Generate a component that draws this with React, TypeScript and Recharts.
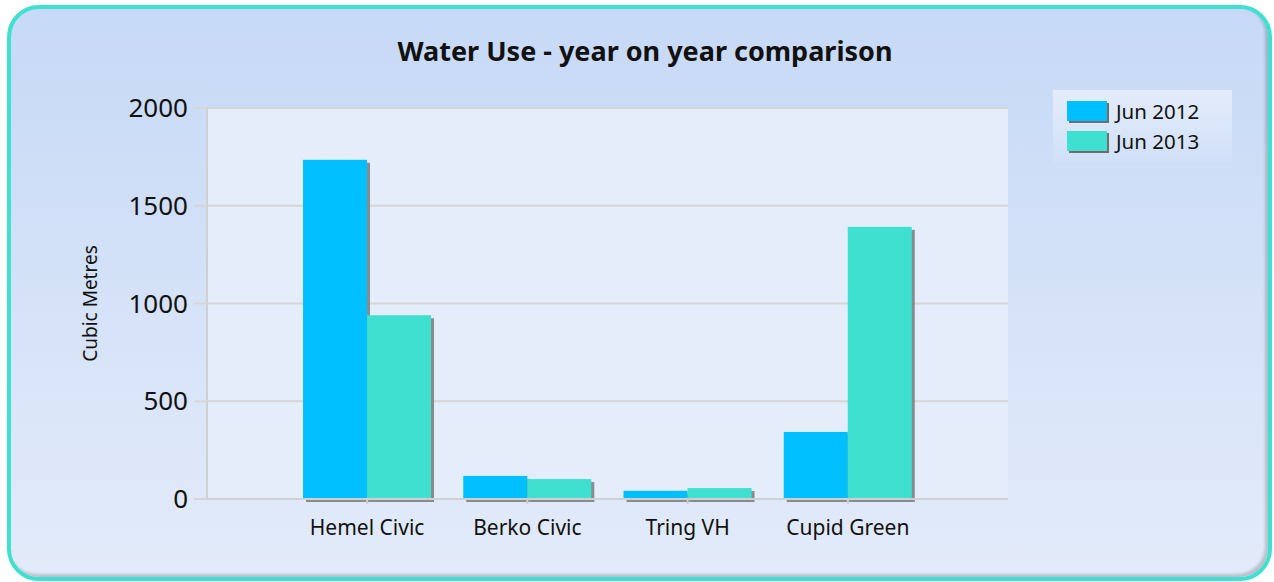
import React from 'react';
import { BarChart, Bar, XAxis, YAxis, CartesianGrid } from 'recharts';

const categories = ['Hemel Civic', 'Berko Civic', 'Tring VH', 'Cupid Green'];
const jun2012 = [1735, 118, 42, 343];
const jun2013 = [940, 102, 56, 1392];
const yTicks = [0, 500, 1000, 1500, 2000];
const seriesNames = ['Jun 2012', 'Jun 2013'];
const seriesColors = ['#00BFFF', '#40E0D0'];

const data = categories.map((c, i) => ({ name: c, a: jun2012[i], b: jun2013[i] }));

const FONT = '"Noto Sans", "DejaVu Sans", sans-serif';

const ShadowBar = (props: any) => {
  const { x, y, width, height, fill } = props;
  if (!height || height <= 0) return null;
  return (
    <g>
      <rect x={x + 3} y={y + 3} width={width} height={height} fill="#7a7a7a" opacity={0.85} />
      <rect x={x} y={y} width={width} height={height} fill={fill} />
    </g>
  );
};

const LegendBox = () => (
  <div
    style={{
      position: 'absolute',
      left: 1053,
      top: 90,
      width: 179,
      height: 73,
      background: 'linear-gradient(#e4ecfb, #d0e0f7)',
      fontFamily: FONT,
    }}
  >
    {seriesNames.map((n, i) => (
      <div key={n} style={{ position: 'absolute', left: 14, top: 10 + i * 30, height: 22, display: 'flex', alignItems: 'center' }}>
        <div style={{ width: 40, height: 20, background: seriesColors[i], boxShadow: '2px 2px 0 #6e6e6e' }} />
        <span style={{ marginLeft: 9, fontSize: 20.5, color: '#111', lineHeight: '22px' }}>{n}</span>
      </div>
    ))}
  </div>
);

const YLabel = (props: any) => {
  const vb = props.viewBox || {};
  const cx = 90;
  const cy = vb.y + vb.height / 2;
  return (
    <text
      x={cx}
      y={cy}
      transform={`rotate(-90 ${cx} ${cy})`}
      textAnchor="middle"
      dominantBaseline="central"
      fontSize={19}
      fontFamily={FONT}
      fill="#111"
    >
      Cubic Metres
    </text>
  );
};

export default function App() {
  return (
    <div style={{ position: 'absolute', left: 0, top: 0, width: 1274, height: 582 }}>
      <div
        style={{
          position: 'absolute',
          left: 7,
          top: 5,
          width: 1265,
          height: 576,
          boxSizing: 'border-box',
          border: '4px solid #40E0D0',
          borderRadius: 32,
          background: 'linear-gradient(#c6d9f6, #e3ebfa)',
          boxShadow: 'inset -3px -3px 3px rgba(0,0,0,0.18)',
        }}
      />
      <div
        style={{
          position: 'absolute',
          left: 0,
          top: 32,
          width: 1290,
          textAlign: 'center',
          fontFamily: FONT,
          fontWeight: 700,
          fontSize: 27,
          color: '#111',
        }}
      >
        Water Use - year on year comparison
      </div>
      <div style={{ position: 'absolute', left: 0, top: 0 }}>
        <BarChart
          width={1274}
          height={582}
          data={data}
          margin={{ top: 108, right: 266, bottom: 53, left: 87 }}
          barGap={0}
          barCategoryGap="10%"
        >
          <CartesianGrid vertical={false} fill="#e5ecfa" stroke="#d6d6d6" strokeWidth={2} />
          <XAxis
            dataKey="name"
            padding={{ left: 80, right: 80 }}
            height={30}
            axisLine={{ stroke: '#d0d0d0', strokeWidth: 2 }}
            tickLine={{ stroke: '#d0d0d0', strokeWidth: 2 }}
            tickSize={5}
            tickMargin={16}
            tick={{ fontSize: 21, fill: '#111', fontFamily: FONT }}
          />
          <YAxis
            width={120}
            domain={[0, 2000]}
            ticks={yTicks}
            axisLine={{ stroke: '#d0d0d0', strokeWidth: 2 }}
            tickLine={{ stroke: '#d6d6d6', strokeWidth: 2 }}
            tickSize={13}
            tickMargin={6}
            tick={{ fontSize: 26, fill: '#111', fontFamily: FONT }}
            label={{ content: <YLabel /> }}
          />
          <Bar dataKey="a" name={seriesNames[0]} fill={seriesColors[0]} shape={<ShadowBar />} isAnimationActive={false} />
          <Bar dataKey="b" name={seriesNames[1]} fill={seriesColors[1]} shape={<ShadowBar />} isAnimationActive={false} />
        </BarChart>
      </div>
      <LegendBox />
    </div>
  );
}
